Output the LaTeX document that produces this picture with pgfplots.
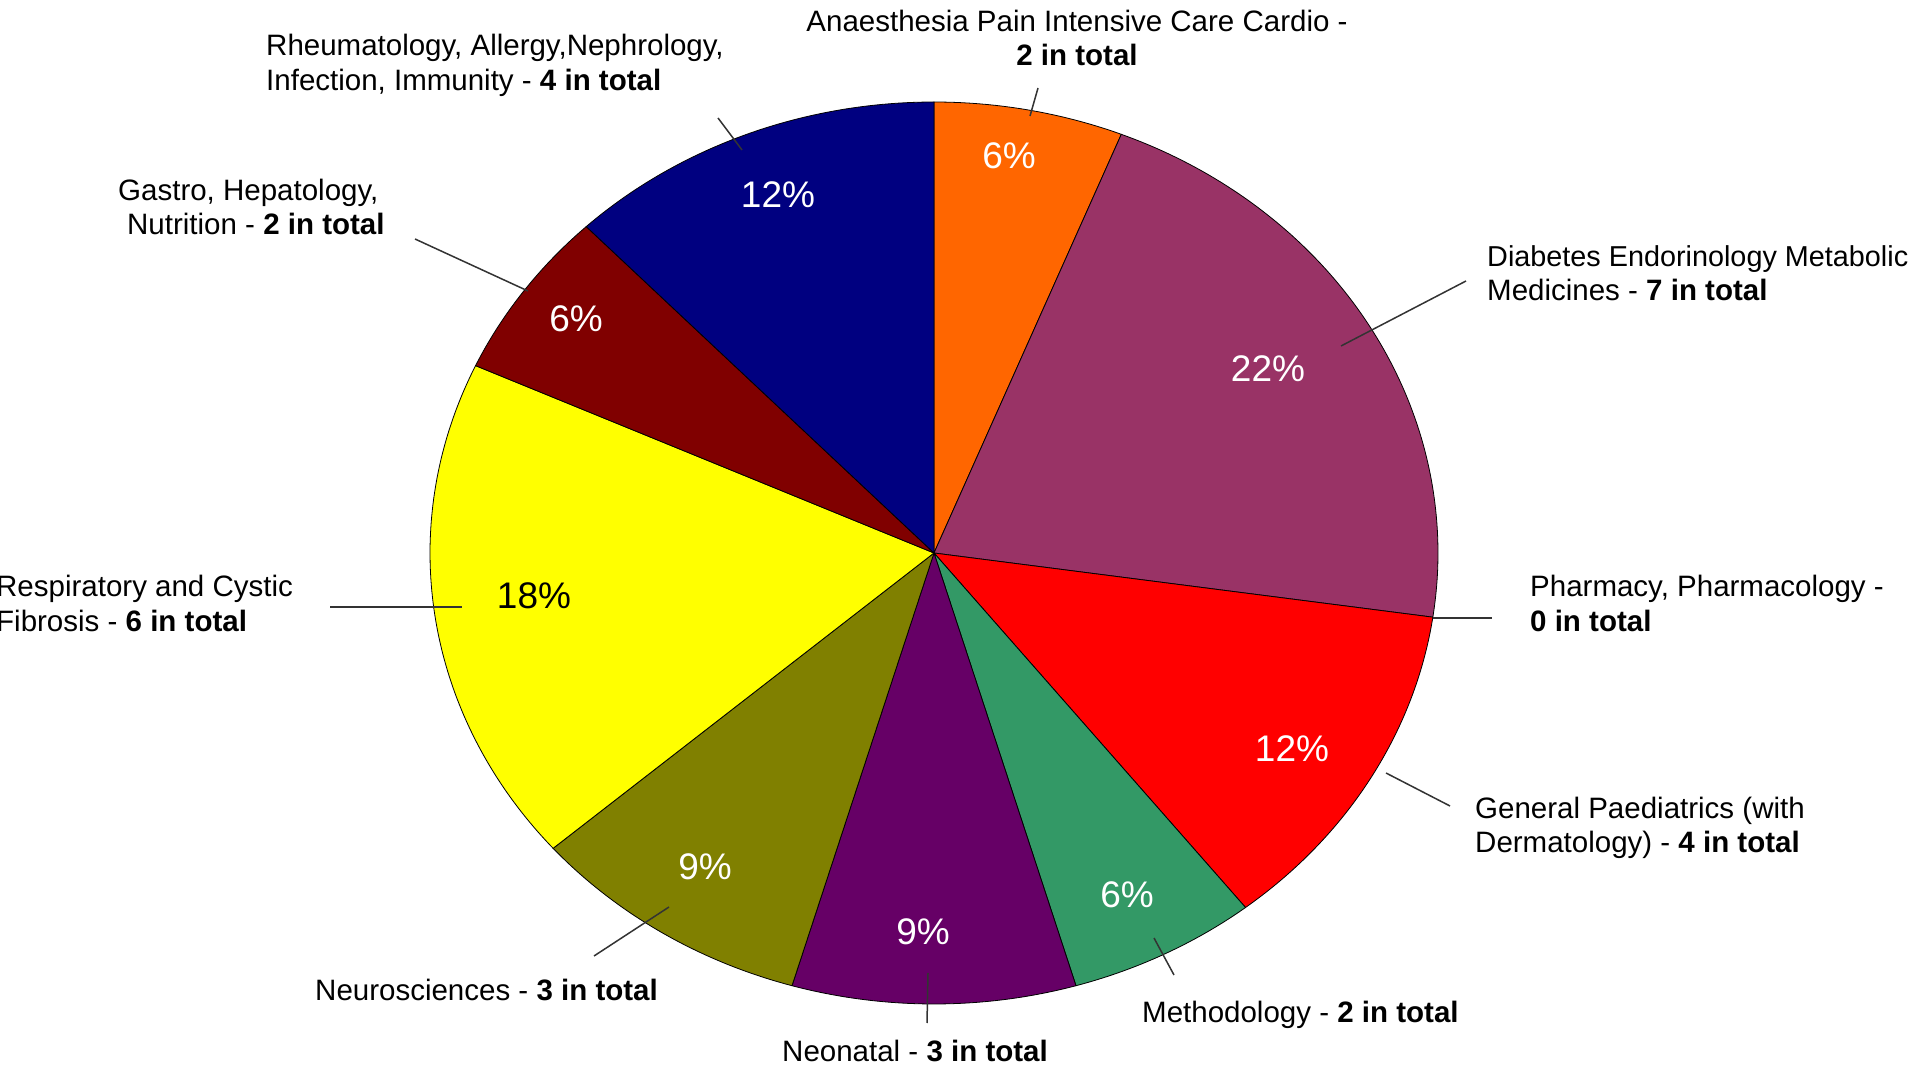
\documentclass[border=0pt]{standalone}
\usepackage{fontspec}
\setmainfont{Liberation Sans}
\usepackage{pgfplots}
\pgfplotsset{compat=1.18}
\definecolor{cAna}{HTML}{FF6600}
\definecolor{cDia}{HTML}{993366}
\definecolor{cGen}{HTML}{FF0000}
\definecolor{cMet}{HTML}{339966}
\definecolor{cNeo}{HTML}{660066}
\definecolor{cNeu}{HTML}{808000}
\definecolor{cRes}{HTML}{FFFF00}
\definecolor{cGas}{HTML}{800000}
\definecolor{cRhe}{HTML}{000080}
\definecolor{lead}{HTML}{333333}
\newcommand\lab{\fontsize{29.5bp}{34bp}\selectfont}
\newcommand\labs{\fontsize{28.8bp}{34bp}\selectfont}
\newcommand\pct{\fontsize{37bp}{40bp}\selectfont}
% total of all counts = 33
\newcommand\slice[3]{% #1 = count before, #2 = count, #3 = colour
  \pgfmathsetmacro\sa{90-360*(#1+#2)/33}%
  \pgfmathsetmacro\sb{90-360*#1/33}%
  \edef\temp{\noexpand\addplot[fill=#3, draw=black, line width=0.8pt, domain=\sa:\sb, samples=90, forget plot]
    ({934+504*cos(x)},{513+451*sin(x)}) -- (axis cs:934,513) -- cycle;}%
  \temp}
\begin{document}
\begin{tikzpicture}
\begin{axis}[name=ax, at={(0,0)}, anchor=south west,
  hide axis, scale only axis, width=1915bp, height=1066bp,
  xmin=0, xmax=1915, ymin=0, ymax=1066, clip=false, no markers]
% counts, clockwise from 12 o'clock
\slice{0}{2}{cAna}   % Anaesthesia Pain Intensive Care Cardio: 2
\slice{2}{7}{cDia}   % Diabetes Endorinology Metabolic Medicines: 7
                     % Pharmacy, Pharmacology: 0
\slice{9}{4}{cGen}   % General Paediatrics: 4
\slice{13}{2}{cMet}  % Methodology: 2
\slice{15}{3}{cNeo}  % Neonatal: 3
\slice{18}{3}{cNeu}  % Neurosciences: 3
\slice{21}{6}{cRes}  % Respiratory and Cystic Fibrosis: 6
\slice{27}{2}{cGas}  % Gastro, Hepatology, Nutrition: 2
\slice{29}{4}{cRhe}  % Rheumatology ...: 4
% leader lines
\addplot[draw=lead, line width=1.5bp, forget plot] coordinates {(1038,978) (1030,950)};
\addplot[draw=lead, line width=1.5bp, forget plot] coordinates {(718,948) (742,916)};
\addplot[draw=lead, line width=1.5bp, forget plot] coordinates {(415,827) (528,775)};
\addplot[draw=lead, line width=1.5bp, forget plot] coordinates {(330,459) (462,459)};
\addplot[draw=lead, line width=1.5bp, forget plot] coordinates {(594,110) (669,159)};
\addplot[draw=lead, line width=1.5bp, forget plot] coordinates {(928,93) (927,43)};
\addplot[draw=lead, line width=1.5bp, forget plot] coordinates {(1154,128) (1174,91)};
\addplot[draw=lead, line width=1.5bp, forget plot] coordinates {(1386,293) (1450,260)};
\addplot[draw=lead, line width=1.5bp, forget plot] coordinates {(1433,448) (1492,448)};
\addplot[draw=lead, line width=1.5bp, forget plot] coordinates {(1341,720) (1466,785)};
% percentage labels
\node[text=white, font=\pct] at (axis cs:1009,910) {6\%};
\node[text=white, font=\pct] at (axis cs:1268,697) {22\%};
\node[text=white, font=\pct] at (axis cs:1292,317) {12\%};
\node[text=white, font=\pct] at (axis cs:1127,171) {6\%};
\node[text=white, font=\pct] at (axis cs:923,134) {9\%};
\node[text=white, font=\pct] at (axis cs:705,199) {9\%};
\node[text=black, font=\pct] at (axis cs:534,470) {18\%};
\node[text=white, font=\pct] at (axis cs:576,747) {6\%};
\node[text=white, font=\pct] at (axis cs:778,871) {12\%};
% category labels
\node[anchor=base, inner sep=0, font=\lab] at (axis cs:1077,1034) {Anaesthesia Pain Intensive Care Cardio -};
\node[anchor=base, inner sep=0, font=\lab] at (axis cs:1077,1000) {\textbf{2 in total}};
\node[anchor=base west, inner sep=0, font=\lab] at (axis cs:266,1010) {Rheumatology, Allergy,Nephrology,};
\node[anchor=base west, inner sep=0, font=\lab] at (axis cs:266,975) {Infection, Immunity - \textbf{4 in total}};
\node[anchor=base west, inner sep=0, font=\lab] at (axis cs:118,865.5) {Gastro, Hepatology,};
\node[anchor=base west, inner sep=0, font=\lab] at (axis cs:127,831) {Nutrition - \textbf{2 in total}};
\node[anchor=base west, inner sep=0, font=\lab] at (axis cs:-4,469) {Respiratory and Cystic};
\node[anchor=base west, inner sep=0, font=\lab] at (axis cs:-4,434) {Fibrosis - \textbf{6 in total}};
\node[anchor=base west, inner sep=0, font=\lab] at (axis cs:315,65.5) {Neurosciences - \textbf{3 in total}};
\node[anchor=base west, inner sep=0, font=\lab] at (axis cs:782,4.5) {Neonatal - \textbf{3 in total}};
\node[anchor=base west, inner sep=0, font=\lab] at (axis cs:1142,43.5) {Methodology - \textbf{2 in total}};
\node[anchor=base west, inner sep=0, font=\lab] at (axis cs:1475,247.5) {General Paediatrics (with};
\node[anchor=base west, inner sep=0, font=\lab] at (axis cs:1475,213) {Dermatology) - \textbf{4 in total}};
\node[anchor=base west, inner sep=0, font=\lab] at (axis cs:1530,469) {Pharmacy, Pharmacology -};
\node[anchor=base west, inner sep=0, font=\lab] at (axis cs:1530,434) {\textbf{0 in total}};
\node[anchor=base west, inner sep=0, font=\labs] at (axis cs:1487,799.5) {Diabetes Endorinology Metabolic};
\node[anchor=base west, inner sep=0, font=\lab] at (axis cs:1487,765) {Medicines - \textbf{7 in total}};
\end{axis}
\pgfresetboundingbox
\path (ax.south west) rectangle (ax.north east);
\end{tikzpicture}
\end{document}
